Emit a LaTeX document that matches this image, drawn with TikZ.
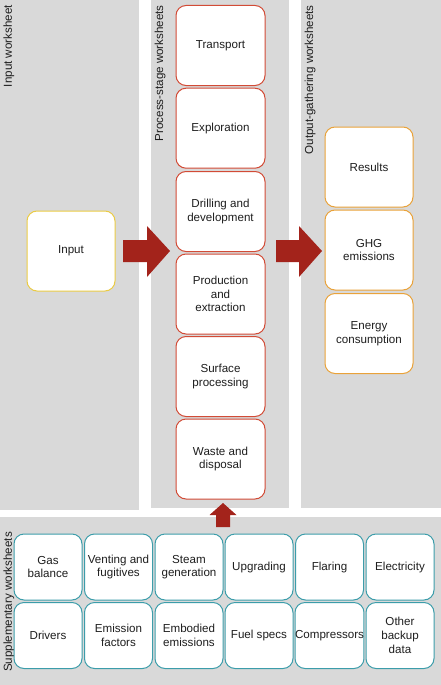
\documentclass[tikz,border=0pt]{standalone}
\usepackage{fontspec}
\setmainfont{Liberation Sans}
\definecolor{panelgray}{HTML}{D9D9D9}
\definecolor{procred}{HTML}{D24B36}
\definecolor{arrowred}{HTML}{A3231B}
\definecolor{inyellow}{HTML}{EACB45}
\definecolor{outorange}{HTML}{E9A23A}
\definecolor{suppteal}{HTML}{3C9DAA}
\definecolor{textgray}{HTML}{1E1E1E}
\begin{document}
\begin{tikzpicture}[x=1pt,y=-1pt,
  panel/.style={fill=panelgray},
  wbox/.style={draw, fill=white, rounded corners=10pt, line width=1pt, align=center, inner sep=0pt,
    font=\fontsize{11.6}{13.7}\selectfont, text=textgray},
  procbox/.style={wbox, draw=procred, minimum width=89pt, minimum height=80pt},
  outbox/.style={wbox, draw=outorange, minimum width=88pt, minimum height=80pt},
  inbox/.style={wbox, draw=inyellow, minimum width=88pt, minimum height=80pt},
  suppbox/.style={wbox, draw=suppteal, minimum width=68pt, minimum height=66pt},
  bigarrow/.style={fill=arrowred},
  paneltitle/.style={rotate=90, anchor=east, inner sep=0pt, text=textgray, font=\fontsize{11.6}{13}\selectfont}
]
\useasboundingbox (0,0) rectangle (441,685);
% panels
\fill[panel] (0,0) rectangle (139,510);
\fill[panel] (151,0) rectangle (289,508);
\fill[panel] (301,0) rectangle (441,508);
\fill[panel] (0,517) rectangle (441,685);
% panel titles
\node[paneltitle] (t1) at (9,5) {Input worksheet};
\node[paneltitle] (t2) at (160,5) {Process-stage worksheets};
\node[paneltitle] (t3) at (310,5) {Output-gathering worksheets};
\node[rotate=90, inner sep=0pt, text=textgray, font=\fontsize{11.6}{13}\selectfont] (t4) at (9,602) {Supplementary worksheets};
% input
\node[inbox] (input) at (71,251) {Input};
% process stages
\node[procbox] (transport) at (220.5,45.5) {Transport};
\node[procbox] (explor) at (220.5,128.2) {Exploration};
\node[procbox] (drill) at (220.5,211.5) {Drilling and\\development};
\node[procbox] (prod) at (220.5,294) {Production\\and\\extraction};
\node[procbox] (surf) at (220.5,376.5) {Surface\\processing};
\node[procbox] (waste) at (220.5,459) {Waste and\\disposal};
% outputs
\node[outbox] (results) at (369,167) {Results};
\node[outbox] (ghg) at (369,250) {GHG\\emissions};
\node[outbox] (energy) at (369,333.5) {Energy\\consumption};
% supplementary
\node[suppbox] (gas) at (48,567) {Gas\\balance};
\node[suppbox] (vent) at (118.5,567) {Venting and\\fugitives};
\node[suppbox] (steam) at (189,567) {Steam\\generation};
\node[suppbox] (upg) at (259,567) {Upgrading};
\node[suppbox] (flar) at (329.5,567) {Flaring};
\node[suppbox] (elec) at (400,567) {Electricity};
\node[suppbox] (drivers) at (48,635.5) {Drivers};
\node[suppbox] (emf) at (118.5,635.5) {Emission\\factors};
\node[suppbox] (emb) at (189,635.5) {Embodied\\emissions};
\node[suppbox] (fuel) at (259,635.5) {Fuel specs};
\node[suppbox] (comp) at (329.5,635.5) {Compressors};
\node[suppbox] (other) at (400,635.5) {Other\\backup\\data};
% big arrows
\fill[bigarrow] (123,240) -- (147,240) -- (147,226) -- (170,251) -- (147,277) -- (147,262) -- (123,262) -- cycle;
\fill[bigarrow] (276,240) -- (299,240) -- (299,226) -- (322,251) -- (299,277) -- (299,262) -- (276,262) -- cycle;
\fill[bigarrow] (216,527) -- (216,515) -- (209.5,515) -- (223,503) -- (236.5,515) -- (230,515) -- (230,527) -- cycle;
\end{tikzpicture}
\end{document}
